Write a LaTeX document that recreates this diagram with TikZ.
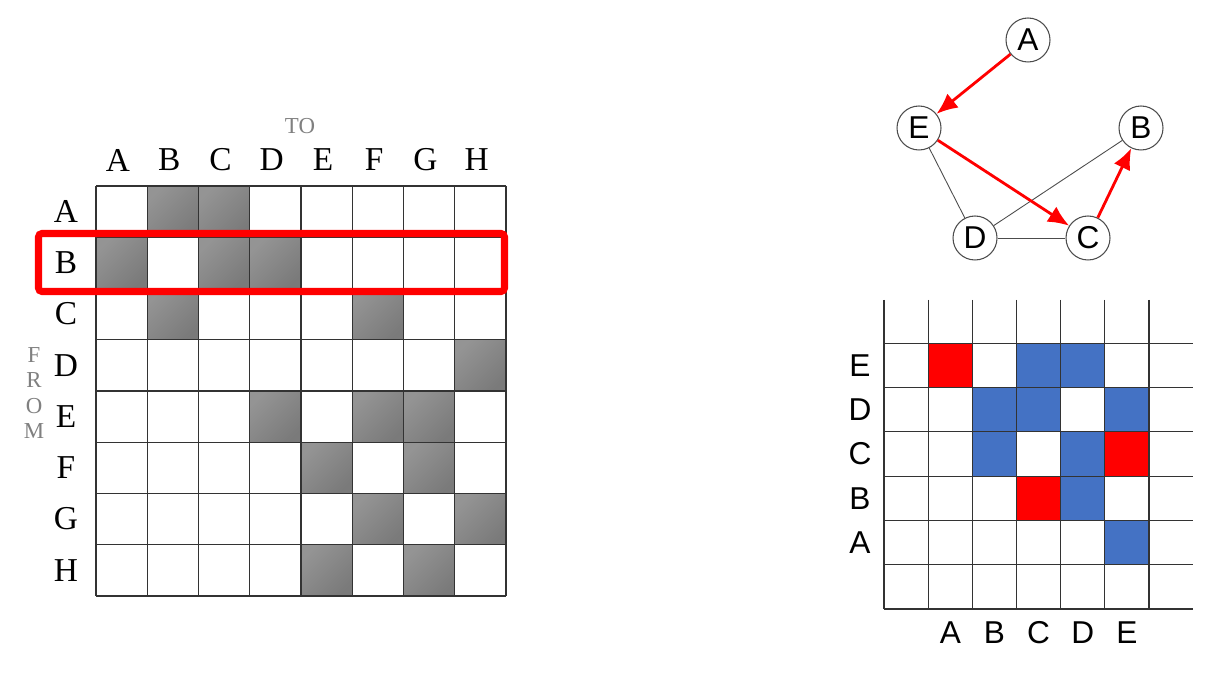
\documentclass[tikz,border=0pt]{standalone}
\usepackage{fontspec}
\setmainfont{Liberation Serif}
\setsansfont{Liberation Sans}
\usetikzlibrary{arrows.meta,positioning}
\definecolor{cellblue}{HTML}{4472C4}
\definecolor{labelgray}{HTML}{808080}
\tikzset{%
  >={Latex[width=3.6mm,length=4.2mm]},
  % Specifications for the matrix on the left:
       rowlabel/.style = {font=\fontsize{19}{19}\selectfont},
       axisname/.style = {text=labelgray, align=center,
                          font=\fontsize{13}{14.3}\selectfont},
       linkcell/.style = {top color=black!42, bottom color=black!52,
                          shading angle=45},
       gridline/.style = {draw=black!80, line width=0.65pt},
       redframe/.style = {draw=red, line width=4pt, rounded corners=2pt},
  % Specifications for the graph:
         vertex/.style = {circle, draw=black!70, line width=0.6pt, fill=white,
                          minimum size=0.88cm, inner sep=0pt,
                          font=\sffamily\fontsize{18}{18}\selectfont},
       redarrow/.style = {->, draw=red, line width=1.6pt},
      plainedge/.style = {draw=black!70, line width=0.5pt},
  % Specifications for the grid on the right:
      gridlabel/.style = {font=\sffamily\fontsize{18}{18}\selectfont},
}

\begin{document}
\begin{tikzpicture}[x=0.02cm, y=-0.02cm]

\useasboundingbox (0,0) rectangle (1230,688);
\fill[white] (0,0) rectangle (1230,688);

% matrix: who links to whom
\foreach \r/\c in {0/1,0/2,1/0,1/2,1/3,2/1,2/5,3/7,4/3,4/5,4/6,5/4,5/6,6/5,6/7,7/4,7/6}
  \shade[linkcell] ({96+51.25*\c},{186+51.25*\r}) rectangle +(51.25,51.25);
\foreach \i in {0,...,8} {
  \draw[gridline] ({96+51.25*\i},186) -- ({96+51.25*\i},596);
  \draw[gridline] (96,{186+51.25*\i}) -- (506,{186+51.25*\i});
}
\foreach \n [count=\i from 0] in {A,B,C,D,E,F,G,H} {
  \node[rowlabel] (to\n)   at ({118+51.25*\i},160) {\n};
  \node[rowlabel] (from\n) at (66,{211.6+51.25*\i}) {\n};
}
\node[axisname] (TO)   at (300,126) {TO};
\node[axisname] (FROM) at (34,393)  {F\\R\\O\\M};

\draw[redframe] (38.5,233.5) rectangle (504.5,291.5);

% graph
\node[vertex] (A) at (1028,40)  {A};
\node[vertex] (E) at (919,128)  {E};
\node[vertex] (B) at (1141,128) {B};
\node[vertex] (D) at (975,238)  {D};
\node[vertex] (C) at (1088,238) {C};

\draw[plainedge] (E) -- (D);
\draw[plainedge] (D) -- (B);
\draw[plainedge] (D) -- (C);
\draw[redarrow]  (A) -- (E);
\draw[redarrow]  (E) -- (C);
\draw[redarrow]  (C) -- (B);

% grid on the right
\foreach \r/\c in {0/1,2/5,3/3}
  \fill[red] ({884+44.17*\c},{343.3+44.28*\r}) rectangle +(44.17,44.28);
\foreach \r/\c in {0/3,0/4,1/2,1/3,1/5,2/2,2/4,3/4,4/5}
  \fill[cellblue] ({884+44.17*\c},{343.3+44.28*\r}) rectangle +(44.17,44.28);
\foreach \i in {0,...,6} {
  \draw[gridline] ({884+44.17*\i},300) -- ({884+44.17*\i},609);
  \draw[gridline] (884,{343.3+44.28*\i}) -- (1193,{343.3+44.28*\i});
}
\foreach \n [count=\i from 0] in {A,B,C,D,E} {
  \node[gridlabel] (col\n) at ({950.3+44.17*\i},633) {\n};
  \node[gridlabel] (row\n) at (860,{542.6-44.28*\i}) {\n};
}

\end{tikzpicture}
\end{document}
